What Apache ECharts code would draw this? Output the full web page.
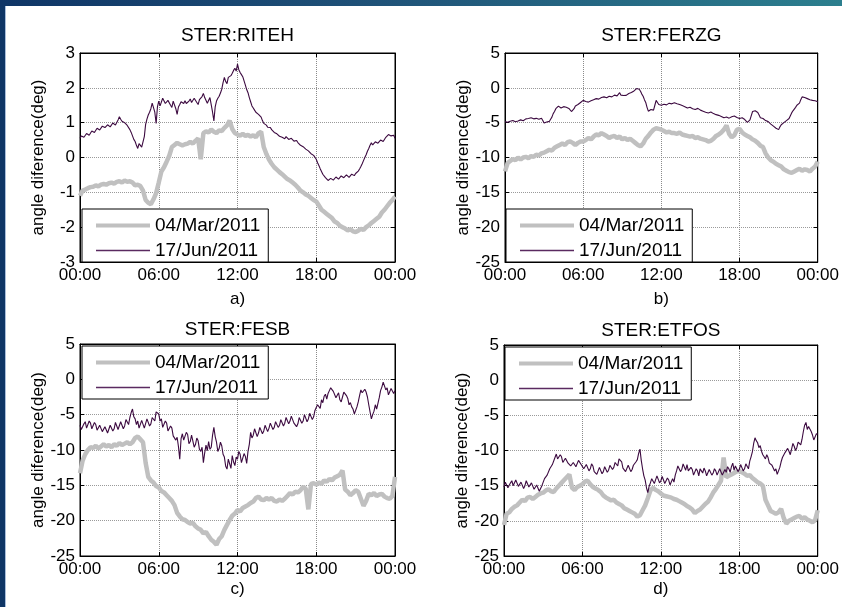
<!DOCTYPE html>
<html><head><meta charset="utf-8">
<script src="https://cdn.jsdelivr.net/npm/echarts@6/dist/echarts.min.js"></script>
<style>
html,body{margin:0;padding:0;background:#fff;}
#frame{position:relative;width:842px;height:607px;overflow:hidden;background:#fff;}
#chart{position:absolute;left:0;top:0;width:842px;height:607px;}
#barL{position:absolute;left:0;top:0;width:5px;height:607px;background:#0f3666;z-index:2;}
#lineL{position:absolute;left:5px;top:6px;width:1px;height:601px;background:#a9bfdc;z-index:2;}
#barT{position:absolute;left:0;top:0;width:842px;height:6px;background:linear-gradient(to right,#0f3566,#1f5278 45%,#2c7f8e);z-index:3;}
</style></head>
<body>
<div id="frame"><div id="chart"></div><div id="barL"></div><div id="lineL"></div><div id="barT"></div></div>
<script>
// ---- data ----
// 04/Mar/2011 series sampled every 0.2 h, 17/Jun/2011 series every 0.1 h (00:00 .. 24:00, one hour per line)
const marStepHours = 0.2;
const junStepHours = 0.1;
const xTickLabels = ['00:00', '06:00', '12:00', '18:00', '00:00'];
const panelTitles = ['STER:RITEH', 'STER:FERZG', 'STER:FESB', 'STER:ETFOS'];
const panelLabels = ['a)', 'b)', 'c)', 'd)'];
const seriesNames = ['04/Mar/2011', '17/Jun/2011'];
const yAxisName = 'angle diference(deg)';

const ritehMar = [
-1.10,-0.95,-0.92,-0.88,-0.85,
-0.84,-0.80,-0.83,-0.78,-0.76,
-0.78,-0.74,-0.72,-0.75,-0.70,
-0.68,-0.72,-0.66,-0.70,-0.68,
-0.72,-0.80,-0.78,-0.82,-0.95,
-1.22,-1.30,-1.34,-1.20,-1.02,
-0.72,-0.40,-0.28,-0.12,0.05,
0.30,0.36,0.42,0.38,0.35,
0.38,0.40,0.45,0.40,0.48,
0.55,-0.05,0.70,0.75,0.72,
0.80,0.74,0.70,0.78,0.76,
0.85,0.92,1.06,0.82,0.70,
0.66,0.63,0.68,0.62,0.65,
0.60,0.64,0.58,0.70,0.74,
0.30,0.10,-0.06,-0.18,-0.28,
-0.35,-0.42,-0.48,-0.55,-0.62,
-0.66,-0.72,-0.78,-0.86,-0.95,
-1.00,-1.06,-1.10,-1.16,-1.22,
-1.26,-1.38,-1.50,-1.56,-1.62,
-1.68,-1.74,-1.84,-1.88,-1.96,
-2.00,-2.04,-2.09,-2.06,-2.12,
-2.14,-2.10,-2.05,-2.08,-2.00,
-1.95,-1.88,-1.82,-1.76,-1.70,
-1.58,-1.50,-1.40,-1.30,-1.22,
-1.12];
const ritehJun = [
0.55,0.62,0.63,0.58,0.60,0.69,0.71,0.64,0.68,0.76,
0.79,0.72,0.76,0.84,0.86,0.79,0.81,0.90,0.93,0.86,
0.87,0.94,0.95,0.88,0.90,0.99,1.01,0.93,0.96,1.08,
1.17,1.10,1.04,1.06,1.00,0.95,0.92,0.88,0.80,0.72,
0.62,0.52,0.46,0.35,0.26,0.40,0.45,0.30,0.34,0.60,
0.95,1.10,1.22,1.30,1.40,1.56,1.52,1.30,0.98,1.45,
1.62,1.48,1.52,1.70,1.67,1.55,1.50,1.64,1.61,1.50,
1.44,1.62,1.58,1.40,1.24,1.45,1.52,1.60,1.60,1.55,
1.63,1.55,1.50,1.62,1.68,1.58,1.56,1.70,1.66,1.58,
1.52,1.66,1.62,1.75,1.84,1.72,1.68,1.56,1.60,1.72,
1.70,1.30,1.05,1.45,1.62,1.70,1.76,1.85,1.96,2.15,
2.30,2.18,2.12,2.30,2.26,2.35,2.42,2.50,2.56,2.48,
2.68,2.52,2.44,2.38,2.32,2.20,2.08,1.95,1.86,1.72,
1.60,1.48,1.42,1.36,1.30,1.27,1.24,1.20,1.16,1.06,
0.98,0.95,0.93,0.87,0.84,0.86,0.80,0.76,0.72,0.74,
0.68,0.64,0.61,0.64,0.58,0.55,0.54,0.60,0.59,0.52,
0.49,0.55,0.54,0.47,0.45,0.49,0.43,0.38,0.35,0.34,
0.31,0.27,0.24,0.21,0.19,0.14,0.11,0.09,0.06,0.02,
-0.05,-0.15,-0.23,-0.32,-0.40,-0.48,-0.53,-0.58,-0.61,-0.66,
-0.67,-0.60,-0.58,-0.65,-0.63,-0.56,-0.54,-0.62,-0.61,-0.53,
-0.51,-0.58,-0.57,-0.50,-0.49,-0.57,-0.56,-0.48,-0.47,-0.52,
-0.46,-0.42,-0.39,-0.33,-0.26,-0.18,-0.09,0.00,0.08,0.18,
0.26,0.35,0.42,0.36,0.37,0.45,0.49,0.41,0.43,0.50,
0.53,0.46,0.49,0.58,0.63,0.66,0.71,0.62,0.60,0.64,
0.55];

const ferzgMar = [
-12.0,-10.8,-10.5,-10.2,-10.4,
-10.0,-10.3,-10.0,-9.9,-10.1,
-9.8,-9.9,-9.6,-9.7,-9.4,
-9.3,-9.1,-8.9,-9.0,-8.6,
-8.4,-8.2,-8.0,-8.2,-7.8,
-7.7,-7.9,-8.2,-7.9,-7.7,
-7.7,-7.5,-7.2,-7.4,-7.0,
-6.7,-6.8,-6.5,-6.7,-6.9,
-7.2,-7.0,-6.9,-7.2,-7.0,
-7.4,-7.2,-7.5,-7.3,-7.6,
-7.9,-8.2,-8.4,-8.0,-7.3,
-6.9,-6.4,-6.0,-5.8,-5.9,
-6.0,-6.2,-6.4,-6.3,-6.5,
-6.5,-6.6,-6.4,-6.7,-6.8,
-6.9,-7.0,-6.9,-7.2,-7.1,
-7.3,-7.4,-7.5,-7.7,-7.6,
-7.3,-6.9,-6.7,-6.4,-6.0,
-5.4,-6.6,-7.1,-6.8,-6.0,
-5.9,-6.4,-6.7,-6.9,-7.1,
-7.4,-7.6,-7.9,-8.3,-8.5,
-9.4,-10.0,-10.4,-10.6,-10.9,
-11.1,-11.3,-11.7,-11.9,-12.1,
-12.2,-12.0,-11.8,-11.6,-11.9,
-11.7,-11.8,-12.0,-11.6,-11.3,
-10.6];
const ferzgJun = [
-4.85,-4.70,-4.95,-4.85,-4.80,-4.62,-4.70,-4.90,-4.88,-4.72,
-4.75,-4.55,-4.60,-4.78,-4.72,-4.50,-4.45,-4.62,-4.40,-4.28,
-4.30,-4.52,-4.45,-4.30,-4.38,-4.55,-4.50,-4.32,-4.35,-4.70,
-5.05,-4.85,-4.90,-5.00,-4.82,-4.50,-4.20,-3.70,-3.40,-3.00,
-2.80,-2.62,-2.72,-2.90,-2.95,-2.70,-2.60,-2.78,-2.85,-2.95,
-3.00,-3.40,-3.65,-3.00,-2.60,-2.50,-2.40,-2.25,-2.10,-1.95,
-1.80,-1.95,-1.95,-2.10,-2.05,-1.90,-1.85,-1.70,-1.70,-1.60,
-1.55,-1.70,-1.62,-1.48,-1.40,-1.35,-1.30,-1.45,-1.42,-1.28,
-1.20,-1.38,-1.30,-1.12,-1.05,-1.20,-1.15,-0.90,-0.70,-1.05,
-1.25,-1.10,-1.00,-1.08,-0.90,-0.82,-0.75,-0.68,-0.60,-0.45,
-0.35,-0.10,0.10,-0.20,-0.50,-0.90,-1.20,-1.70,-2.10,-2.80,
-3.35,-3.45,-3.10,-3.30,-3.20,-2.50,-1.80,-2.10,-2.40,-2.55,
-2.50,-2.30,-2.35,-2.55,-2.45,-2.30,-2.20,-2.15,-2.30,-2.18,
-2.15,-2.30,-2.28,-2.35,-2.40,-2.50,-2.55,-2.62,-2.70,-2.82,
-2.90,-2.75,-2.80,-2.95,-3.00,-2.90,-3.10,-3.00,-2.95,-3.12,
-3.20,-3.28,-3.35,-3.42,-3.50,-3.55,-3.60,-3.45,-3.48,-3.62,
-3.70,-3.78,-3.85,-3.92,-3.95,-4.05,-4.10,-4.20,-4.30,-4.25,
-4.20,-4.28,-4.35,-4.22,-4.15,-4.00,-4.05,-4.18,-4.25,-4.30,
-4.40,-4.22,-4.30,-4.45,-4.55,-4.70,-4.95,-4.80,-4.60,-4.00,
-3.40,-3.25,-3.30,-3.45,-3.55,-3.90,-4.30,-4.35,-4.40,-4.55,
-4.70,-4.78,-4.85,-5.05,-5.20,-5.35,-5.50,-5.65,-5.80,-5.95,
-6.00,-5.60,-5.30,-5.15,-5.00,-4.85,-4.70,-4.55,-4.40,-4.00,
-3.60,-3.30,-3.10,-2.80,-2.50,-2.40,-2.20,-1.70,-1.30,-1.35,
-1.40,-1.50,-1.55,-1.62,-1.70,-1.78,-1.80,-1.75,-1.85,-1.92,
-2.00];

const fesbMar = [
-13.3,-11.5,-10.6,-10.0,-9.6,
-9.7,-9.4,-9.8,-9.5,-9.2,
-9.5,-9.3,-9.6,-9.2,-9.4,
-9.0,-9.3,-9.1,-8.9,-9.2,
-8.9,-8.3,-8.1,-8.5,-8.9,
-11.8,-13.8,-14.3,-14.6,-15.1,
-15.3,-15.8,-16.0,-16.4,-16.8,
-17.2,-17.8,-18.9,-19.4,-19.8,
-19.9,-20.2,-20.4,-20.3,-20.8,
-21.1,-21.3,-21.8,-21.6,-22.2,
-22.7,-23.0,-23.4,-22.6,-22.2,
-21.3,-20.6,-19.9,-19.3,-19.0,
-18.5,-18.7,-18.2,-18.0,-17.8,
-17.5,-17.3,-16.8,-16.6,-17.0,
-17.1,-16.8,-17.0,-16.8,-17.2,
-17.3,-17.0,-17.2,-16.9,-16.5,
-16.1,-16.3,-15.9,-16.0,-15.7,
-15.2,-15.5,-18.4,-14.8,-14.7,
-14.9,-14.6,-14.8,-14.3,-14.5,
-14.1,-14.3,-13.9,-13.7,-13.5,
-12.9,-15.6,-15.9,-16.4,-16.1,
-15.7,-15.9,-16.9,-17.9,-17.2,
-16.2,-16.4,-16.1,-16.5,-16.3,
-16.2,-16.6,-16.8,-16.9,-16.5,
-13.8];
const fesbJun = [
-6.5,-7.1,-7.2,-6.3,-6.0,-6.9,-6.8,-5.9,-6.2,-7.0,
-6.9,-6.1,-6.4,-7.2,-7.3,-6.5,-6.6,-7.4,-7.5,-6.7,
-6.8,-7.6,-7.4,-6.5,-6.6,-7.3,-7.0,-6.1,-6.3,-7.1,
-7.0,-6.0,-6.2,-7.0,-6.6,-5.7,-5.8,-6.4,-5.4,-4.7,
-4.2,-5.3,-5.6,-6.4,-5.9,-6.9,-6.8,-5.8,-6.0,-6.9,
-6.7,-5.6,-5.8,-6.6,-6.3,-5.4,-5.2,-5.9,-4.6,-4.4,
-4.9,-5.9,-5.6,-6.8,-6.7,-5.9,-6.2,-7.3,-7.4,-6.6,
-6.9,-8.0,-7.8,-8.6,-8.2,-9.5,-11.3,-8.4,-7.7,-8.6,
-8.4,-7.5,-7.8,-9.1,-8.8,-7.9,-8.1,-9.6,-9.2,-8.3,
-8.7,-9.9,-10.2,-9.6,-11.8,-10.4,-9.3,-10.1,-8.8,-9.9,
-9.6,-7.9,-6.8,-8.1,-8.9,-10.2,-9.8,-8.9,-9.4,-10.6,
-11.0,-12.3,-12.7,-11.3,-11.5,-12.6,-10.8,-11.7,-12.2,-11.0,
-11.3,-10.2,-10.6,-11.8,-11.6,-10.5,-10.9,-11.9,-10.2,-9.2,
-7.5,-8.3,-7.9,-7.0,-7.2,-8.1,-7.6,-6.8,-6.9,-7.7,
-7.3,-6.5,-6.6,-7.4,-6.9,-6.2,-6.4,-7.1,-6.8,-6.0,
-6.1,-6.8,-6.5,-5.7,-5.8,-6.6,-6.2,-5.4,-5.6,-6.3,
-5.9,-5.2,-5.4,-6.2,-6.0,-6.7,-6.3,-5.4,-5.5,-6.2,
-5.9,-5.0,-5.2,-6.0,-5.6,-4.8,-4.9,-5.7,-5.3,-4.4,
-4.0,-3.6,-3.4,-4.1,-2.9,-3.3,-2.4,-2.1,-2.8,-2.0,
-1.6,-1.2,-1.0,-1.7,-1.9,-2.6,-2.4,-1.9,-2.9,-3.2,
-2.5,-1.8,-1.9,-2.3,-2.7,-3.6,-3.3,-3.9,-4.2,-4.9,
-4.8,-3.9,-3.2,-2.3,-1.5,-1.9,-2.1,-1.4,-1.8,-2.5,
-3.6,-4.6,-5.6,-5.0,-4.5,-3.6,-4.2,-3.4,-2.6,-1.6,
-1.1,-0.4,-0.6,-1.5,-1.2,-2.2,-2.1,-1.3,-1.4,-2.0,
-1.6];

const etfosMar = [
-20.6,-19.0,-18.8,-18.3,-18.0,
-17.8,-17.4,-17.0,-17.2,-16.7,
-16.6,-16.9,-16.6,-16.3,-16.1,
-16.0,-15.7,-15.5,-15.8,-15.9,
-15.4,-15.0,-14.6,-14.2,-13.8,
-13.4,-15.3,-15.6,-15.2,-15.0,
-14.8,-14.4,-14.3,-14.8,-15.2,
-15.4,-15.6,-15.9,-16.4,-16.7,
-16.9,-17.1,-17.0,-17.4,-17.6,
-17.8,-18.2,-18.4,-18.6,-18.8,
-19.0,-19.4,-19.2,-18.5,-17.8,
-16.8,-15.7,-15.3,-15.6,-15.8,
-16.1,-16.4,-16.5,-16.6,-16.7,
-16.9,-17.0,-17.2,-17.4,-17.6,
-17.9,-18.1,-18.4,-18.9,-18.6,
-18.4,-18.0,-17.6,-17.3,-16.7,
-16.0,-15.5,-14.9,-14.3,-11.0,
-13.8,-13.6,-13.4,-13.2,-13.0,
-12.9,-13.1,-13.3,-13.6,-13.5,
-13.9,-14.2,-14.5,-14.7,-15.0,
-17.0,-17.8,-18.6,-18.8,-19.0,
-18.8,-18.3,-19.6,-20.4,-20.0,
-19.8,-19.6,-19.4,-19.3,-19.7,
-19.5,-19.8,-20.0,-20.2,-19.9,
-18.5];
const etfosJun = [
-15.2,-14.5,-14.6,-15.3,-15.4,-14.6,-14.3,-15.0,-14.9,-14.2,
-14.4,-15.1,-15.3,-14.5,-14.6,-15.4,-15.0,-14.3,-14.5,-15.2,
-15.2,-14.6,-14.8,-15.5,-15.6,-14.9,-15.0,-15.8,-15.7,-15.0,
-14.8,-14.0,-14.2,-13.5,-13.3,-12.6,-12.7,-12.0,-11.9,-11.0,
-10.5,-11.2,-11.3,-10.6,-10.9,-11.7,-11.8,-11.1,-11.0,-11.8,
-11.6,-12.2,-12.4,-11.7,-11.5,-12.3,-12.1,-11.4,-11.2,-12.0,
-11.9,-12.6,-12.8,-12.0,-12.1,-12.9,-12.6,-11.9,-12.2,-13.0,
-12.9,-13.4,-13.2,-12.4,-12.5,-13.3,-13.0,-12.3,-12.4,-13.1,
-12.8,-12.1,-12.0,-12.7,-12.4,-11.7,-11.6,-12.2,-11.2,-11.0,
-11.6,-12.5,-12.4,-13.0,-12.9,-12.1,-12.3,-13.0,-12.7,-12.1,
-12.0,-11.6,-11.3,-10.4,-9.8,-11.4,-12.6,-13.6,-14.2,-15.3,
-16.0,-15.1,-14.6,-14.0,-13.9,-14.7,-14.5,-13.6,-13.8,-14.6,
-14.3,-13.7,-13.9,-14.7,-14.6,-13.9,-14.2,-14.9,-14.8,-14.0,
-14.5,-13.5,-12.9,-12.2,-12.4,-13.0,-12.7,-11.9,-12.0,-12.8,
-12.0,-12.9,-13.1,-12.4,-12.7,-13.5,-13.3,-12.6,-12.9,-13.6,
-12.6,-12.9,-13.2,-12.5,-12.9,-13.6,-13.4,-12.7,-12.8,-13.5,
-13.2,-12.6,-12.9,-13.5,-13.3,-12.6,-12.8,-13.5,-13.4,-12.7,
-13.1,-12.3,-12.6,-13.1,-12.3,-11.8,-12.8,-12.2,-12.4,-13.0,
-12.7,-12.0,-12.2,-12.9,-12.6,-11.9,-12.1,-12.6,-11.5,-10.9,
-10.2,-9.0,-8.2,-8.6,-8.9,-9.6,-9.3,-10.1,-10.6,-10.9,
-11.2,-10.6,-11.0,-11.8,-11.6,-12.1,-11.9,-12.9,-12.6,-13.4,
-13.6,-12.4,-11.6,-11.0,-11.0,-10.3,-10.4,-9.7,-10.1,-10.6,
-9.8,-9.0,-9.4,-10.0,-9.6,-8.8,-8.9,-9.2,-8.4,-7.3,
-6.4,-6.0,-7.0,-6.6,-6.5,-7.3,-7.8,-8.5,-8.3,-7.6,
-7.7];

const panelData = [[ritehMar, ritehJun], [ferzgMar, ferzgJun], [fesbMar, fesbJun], [etfosMar, etfosJun]];
const seriesSteps = [marStepHours, junStepHours];
const yRanges = [[-3, 3, 1], [-25, 5, 5], [-25, 5, 5], [-25, 5, 5]];

// ---- layout / style ----
const layouts = [
  {left: 80, top: 53, width: 315, height: 209, titleGap: 8, labelGap: 29, lgLeft: 82, lgTop: 209},
  {left: 505, top: 53, width: 314, height: 209, titleGap: 8, labelGap: 29, lgLeft: 506, lgTop: 209},
  {left: 80, top: 344, width: 315, height: 212, titleGap: 5, labelGap: 25, lgLeft: 82, lgTop: 346},
  {left: 504, top: 345, width: 314, height: 211, titleGap: 5, labelGap: 25, lgLeft: 505, lgTop: 347}
];
const FONT = 'Liberation Sans, Arial, sans-serif';
const lineColors = ['#c0c0c0', '#3c0a40'];
const lineWidths = [4.5, 1.1];
const legendLineWidths = [4, 1.3];
const legendLineColors = ['#c0c0c0', '#5a2a60'];

const toPoints = (vals, step) => vals.map((v, i) => [+(i * step).toFixed(2), v]);

const grid = [], xAxis = [], yAxis = [], series = [], legend = [];
layouts.forEach((L, i) => {
  grid.push({left: L.left, top: L.top, width: L.width, height: L.height, show: true, borderColor: '#000', borderWidth: 1, backgroundColor: '#fff'});
  const tick = {show: true, inside: true, length: 4, lineStyle: {color: '#000'}};
  xAxis.push({
    gridIndex: i, type: 'value', min: 0, max: 24, interval: 6, position: 'bottom',
    axisLine: {show: true, onZero: false, lineStyle: {color: '#000', width: 1}},
    axisTick: tick,
    axisLabel: {fontSize: 17, color: '#000', fontFamily: FONT, margin: 5,
      formatter: v => xTickLabels[Math.round(v / 6)]},
    splitLine: {show: true, lineStyle: {color: '#8a8a8a', type: 'dotted', width: 1}},
    name: panelLabels[i], nameLocation: 'middle', nameGap: L.labelGap,
    nameTextStyle: {fontSize: 17, color: '#000', fontFamily: FONT}
  });
  xAxis.push({
    gridIndex: i, type: 'value', min: 0, max: 24, interval: 6, position: 'top',
    axisLine: {show: true, onZero: false, lineStyle: {color: '#000', width: 1}},
    axisTick: tick, axisLabel: {show: false}, splitLine: {show: false},
    name: panelTitles[i], nameLocation: 'middle', nameGap: L.titleGap,
    nameTextStyle: {fontSize: 19, color: '#000', fontFamily: FONT}
  });
  const [ymin, ymax, yint] = yRanges[i];
  yAxis.push({
    gridIndex: i, type: 'value', min: ymin, max: ymax, interval: yint, position: 'left',
    axisLine: {show: true, onZero: false, lineStyle: {color: '#000', width: 1}},
    axisTick: tick,
    axisLabel: {fontSize: 17, color: '#000', fontFamily: FONT, margin: 5},
    splitLine: {show: true, lineStyle: {color: '#9a9a9a', type: 'dotted', width: 1}},
    name: yAxisName, nameLocation: 'middle', nameGap: 33, nameRotate: 90,
    nameTextStyle: {fontSize: 17, color: '#000', fontFamily: FONT}
  });
  yAxis.push({
    gridIndex: i, type: 'value', min: ymin, max: ymax, interval: yint, position: 'right',
    axisLine: {show: true, onZero: false, lineStyle: {color: '#000', width: 1}},
    axisTick: tick, axisLabel: {show: false}, splitLine: {show: false}
  });
  panelData[i].forEach((vals, k) => {
    series.push({
      type: 'line', name: seriesNames[k], xAxisIndex: 2 * i, yAxisIndex: 2 * i,
      data: toPoints(vals, seriesSteps[k]), symbol: 'none', showSymbol: false, animation: false,
      lineStyle: {color: lineColors[k], width: lineWidths[k]}, itemStyle: {color: lineColors[k]},
      z: 2 + k
    });
  });
  legend.push({
    orient: 'vertical', left: L.lgLeft, top: L.lgTop, selectedMode: false,
    backgroundColor: '#fff', borderColor: '#000', borderWidth: 1, borderRadius: 0,
    padding: [7, 8, 2, 12], itemGap: 6, itemWidth: 54, itemHeight: 14,
    textStyle: {fontSize: 19, color: '#000', fontFamily: FONT},
    data: seriesNames.map((n, k) => ({
      name: n,
      itemStyle: {opacity: 0, borderWidth: 0},
      lineStyle: {width: legendLineWidths[k], color: legendLineColors[k]}
    }))
  });
});

const chart = echarts.init(document.getElementById('chart'), null, {renderer: 'canvas'});
chart.setOption({animation: false, backgroundColor: '#fff', grid, xAxis, yAxis, series, legend});
</script>
</body></html>
